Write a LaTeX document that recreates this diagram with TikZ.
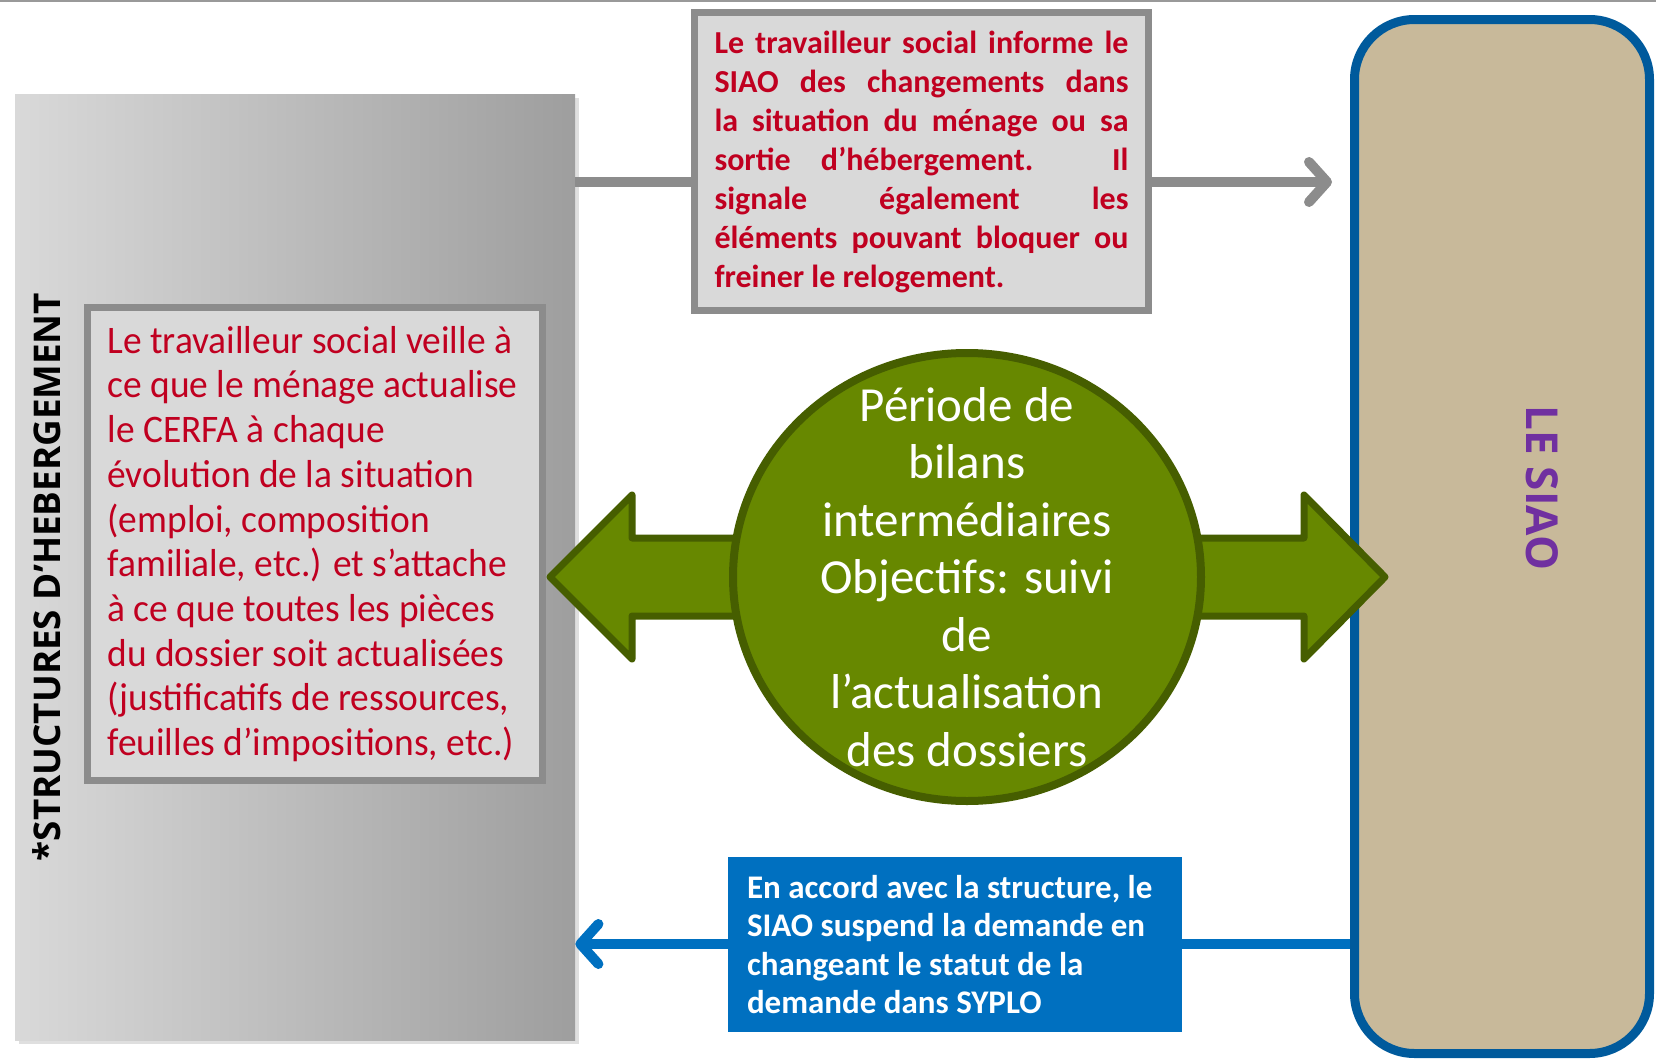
\documentclass[tikz,border=0pt]{standalone}
\usepackage{fontspec}
\setmainfont{Carlito}
\newfontfamily\bodyfont[FakeStretch=0.96]{Carlito}
\newfontfamily\headfont{Open Sans}
\usetikzlibrary{arrows.meta, shapes.geometric, shadows}
\definecolor{redtxt}{RGB}{192,0,32}
\definecolor{boxgrey}{RGB}{140,140,140}
\definecolor{boxfill}{RGB}{217,217,217}
\definecolor{siaofill}{RGB}{200,185,154}
\definecolor{siaoline}{RGB}{0,90,156}
\definecolor{siaotxt}{RGB}{112,48,160}
\definecolor{bilanfill}{RGB}{103,136,0}
\definecolor{bilanline}{RGB}{70,94,0}
\definecolor{suspblue}{RGB}{0,112,192}

\begin{document}
\begin{tikzpicture}[x=0.5pt, y=-0.5pt,
	greybox/.style={draw=boxgrey, line width=3.5pt, fill=boxfill, inner sep=0pt, inner xsep=10pt},
	link/.style={line width=5pt, arrows={-Straight Barb[length=9pt, width=20pt, line cap=round, line join=round]}}]
	\useasboundingbox (0,0) rectangle (1656,1060);
	\draw [line width=1pt, black!40] (0,0.5) -- (1656,0.5);
	% structures
	\node [left color=boxfill, right color=black!38, minimum width=280pt, minimum height=473pt, inner sep=0pt,
		drop shadow={opacity=0.25, shadow xshift=2pt, shadow yshift=-2pt}] (struct) at (295,567) {};
	\node [rotate=90, font=\headfont\bfseries\fontsize{18.4}{19}\selectfont] (structlbl) at (47,577) {*STRUCTURES D’HEBERGEMENT};
	% le siao
	\node [draw=siaoline, line width=4.5pt, fill=siaofill, rounded corners=30pt, minimum width=147.5pt, minimum height=517pt] (siao) at (1502,536.5) {};
	\node [rotate=-90, text=siaotxt, font=\headfont\bfseries\fontsize{22}{24}\selectfont] (siaolbl) at (1542,488) {LE SIAO};
	% connectors
	\coordinate (greyy) at (0,182);
	\coordinate (bluey) at (0,944);
	\draw [link, boxgrey, shorten >=9pt] (struct.east |- greyy) -- (siao.west |- greyy);
	\draw [link, suspblue] (siao.west |- bluey) -- (struct.east |- bluey);
	% double arrow and bilans
	\draw [line width=3.5pt, draw=bilanline, fill=bilanfill, line join=round]
		(550,577) -- (632,495) -- (632,538) -- (1304,538) -- (1304,495) -- (1385,577)
		-- (1304,659) -- (1304,616) -- (632,616) -- (632,659) -- cycle;
	\node [ellipse, draw=bilanline, line width=4pt, fill=bilanfill, minimum width=234pt, minimum height=224pt, inner sep=0pt] (bilan) at (967,577) {};
	\node [align=center, text=white, font=\fontsize{24.5}{28.75}\selectfont] (bilantxt) at (bilan.center)
		{Période de\\bilans\\intermédiaires\\Objectifs: suivi\\de\\l’actualisation\\des dossiers};
	% boxes
	\node [greybox, minimum width=227pt, minimum height=149pt, text width=207pt, align=justify, text=redtxt,
		font=\bfseries\fontsize{16}{19.5}\selectfont] (inform) at (921.5,161.5)
		{Le travailleur social informe le\linebreak SIAO des changements dans\linebreak la situation du ménage ou sa\linebreak sortie d’hébergement. Il\linebreak signale également les\linebreak éléments pouvant bloquer ou\linebreak freiner le relogement.};
	\node [greybox, minimum width=227.5pt, minimum height=236.5pt, text width=207.5pt, align=flush left, text=redtxt,
		font=\bodyfont\fontsize{19.5}{22.35}\selectfont] (veille) at (315,544)
		{Le travailleur social veille à\\ce que le ménage actualise\\le CERFA à chaque\\évolution de la situation\\(emploi, composition\\familiale, etc.) et s’attache\\à ce que toutes les pièces\\du dossier soit actualisées\\(justificatifs de ressources,\\feuilles d’impositions, etc.)};
	\node [fill=suspblue, inner sep=0pt, inner xsep=9.5pt, minimum width=227pt, minimum height=87.5pt, text width=208pt, align=flush left, text=white,
		font=\bfseries\fontsize{16.5}{19.25}\selectfont] (suspend) at (955,944.5)
		{En accord avec la structure, le\\SIAO suspend la demande en\\changeant le statut de la\\demande dans SYPLO};
\end{tikzpicture}
\end{document}
